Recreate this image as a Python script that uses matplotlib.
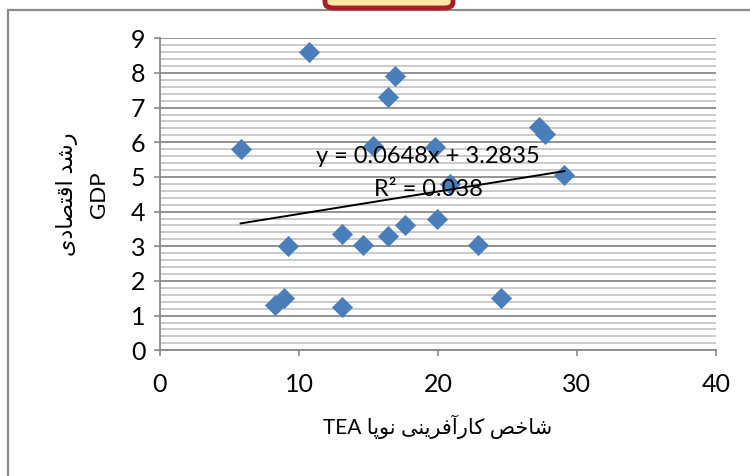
import matplotlib
matplotlib.use("Agg")
import matplotlib.pyplot as plt
from matplotlib.patches import Rectangle, FancyBboxPatch
from matplotlib.ticker import MultipleLocator
import numpy as np

plt.rcParams['font.family'] = ['Lato', 'DejaVu Sans']

# data
tea = [5.8, 10.7, 16.9, 16.4, 15.3, 19.8, 27.3, 27.7, 29.1, 20.9, 19.9,
       17.6, 13.1, 16.4, 14.6, 22.9, 9.2, 8.9, 8.3, 13.1, 24.5]
gdp = [5.8, 8.6, 7.9, 7.3, 5.9, 5.85, 6.45, 6.25, 5.05, 4.8, 3.8,
       3.6, 3.35, 3.3, 3.05, 3.05, 3.0, 1.5, 1.3, 1.25, 1.5]
slope = 0.0648
intercept = 3.2835
r2 = 0.038
x_ticks = [0, 10, 20, 30, 40]
y_ticks = list(range(10))
x_title_fa = 'شاخص کارآفرینی نوپا'
y_title_fa = 'رشد اقتصادی'

# matplotlib has no arabic shaping, so pick presentation forms by hand
# (isolated, final, initial, medial)
FORMS = {
    '\u0627': ('\uFE8D', '\uFE8E', None, None),
    '\u0622': ('\uFE81', '\uFE82', None, None),
    '\u067E': ('\uFB56', '\uFB57', '\uFB58', '\uFB59'),
    '\u062A': ('\uFE95', '\uFE96', '\uFE97', '\uFE98'),
    '\u062E': ('\uFEA5', '\uFEA6', '\uFEA7', '\uFEA8'),
    '\u062F': ('\uFEA9', '\uFEAA', None, None),
    '\u0631': ('\uFEAD', '\uFEAE', None, None),
    '\u0634': ('\uFEB5', '\uFEB6', '\uFEB7', '\uFEB8'),
    '\u0635': ('\uFEB9', '\uFEBA', '\uFEBB', '\uFEBC'),
    '\u0641': ('\uFED1', '\uFED2', '\uFED3', '\uFED4'),
    '\u0642': ('\uFED5', '\uFED6', '\uFED7', '\uFED8'),
    '\u06A9': ('\uFB8E', '\uFB8F', '\uFB90', '\uFB91'),
    '\u0646': ('\uFEE5', '\uFEE6', '\uFEE7', '\uFEE8'),
    '\u0648': ('\uFEED', '\uFEEE', None, None),
    '\u06CC': ('\uFBFC', '\uFBFD', '\uFBFE', '\uFBFF'),
}


def rtl(text):
    text = (text.replace('\u0627\u0653', '\u0622').replace('\u0643', '\u06A9')
            .replace('\u064A', '\u06CC').replace('\u0649', '\u06CC'))
    out = []
    for i, ch in enumerate(text):
        if ch not in FORMS:
            out.append(ch)
            continue
        prev = text[i - 1] if i > 0 else ''
        nxt = text[i + 1] if i + 1 < len(text) else ''
        join_prev = prev in FORMS and FORMS[prev][2] is not None
        join_next = FORMS[ch][2] is not None and nxt in FORMS
        iso, fin, ini, med = FORMS[ch]
        if join_prev and join_next:
            out.append(med)
        elif join_prev:
            out.append(fin)
        elif join_next:
            out.append(ini)
        else:
            out.append(iso)
    return ''.join(out)[::-1]


fig = plt.figure(figsize=(7.5, 4.76), dpi=100)
ax = fig.add_axes([0.2133, 0.2641, 0.7413, 0.6555])

# outer chart frame (cut off on right and bottom) and the badge at the top
fig.patches.append(Rectangle((8 / 750, -0.2), 1.5, 1.2 - 10 / 476,
                             transform=fig.transFigure, fill=False,
                             edgecolor='#8c8c8c', lw=1.6))
fig.patches.append(FancyBboxPatch((325 / 750, 1 - 8 / 476), 128 / 750, 0.1,
                                  boxstyle='round,pad=0,rounding_size=0.012',
                                  transform=fig.transFigure,
                                  facecolor='#fbe6a2', edgecolor='#a71d2a', lw=3.5))

ax.set_xlim(0, 40)
ax.set_ylim(0, 9)
ax.set_xticks(x_ticks)
ax.set_yticks(y_ticks)
ax.yaxis.set_minor_locator(MultipleLocator(0.2))
ax.grid(axis='y', which='major', color='#8a8a8a', lw=1.3)
ax.grid(axis='y', which='minor', color='#bdbdbd', lw=1.1)
ax.set_axisbelow(True)

for s in ['top', 'right']:
    ax.spines[s].set_visible(False)
for s in ['left', 'bottom']:
    ax.spines[s].set_color('#8a8a8a')
    ax.spines[s].set_linewidth(1.3)
ax.tick_params(which='major', direction='out', length=4.5, width=1.2,
               color='#8a8a8a', labelsize=18, labelcolor='black')
ax.tick_params(axis='x', pad=12)
ax.tick_params(axis='y', pad=6)
ax.tick_params(which='minor', length=0)

ax.scatter(tea, gdp, marker='D', s=105, color='#4a7ebb', edgecolors='#4a7ebb',
           linewidths=0.5, zorder=3)

xs = np.array([min(tea), max(tea)])
ax.plot(xs, slope * xs + intercept, color='black', lw=1.4, zorder=4)

ax.text(19.3, 5.6, f'y = {slope}x + {intercept}', ha='center', va='center',
        fontsize=17, zorder=5)
ax.text(19.3, 4.65, f'R² = {r2}', ha='center', va='center', fontsize=17, zorder=5)

ax.text(0.5, -0.245, 'TEA ' + rtl(x_title_fa), transform=ax.transAxes,
        ha='center', va='center', fontsize=15)
ax.text(-0.11, 0.5, 'GDP', transform=ax.transAxes, rotation=90,
        ha='center', va='center', fontsize=16)
ax.text(-0.168, 0.5, rtl(y_title_fa), transform=ax.transAxes, rotation=90,
        ha='center', va='center', fontsize=16)

fig.savefig('out.png', dpi=100)
